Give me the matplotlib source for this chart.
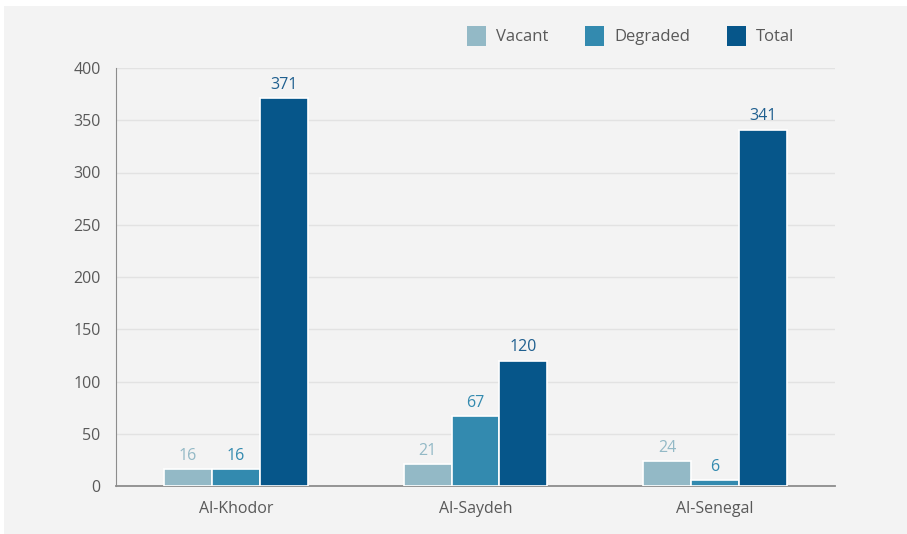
import numpy as np
import matplotlib.pyplot as plt
from matplotlib.patches import Rectangle

plt.rcParams['font.family'] = ['Open Sans', 'DejaVu Sans']

sites = ['Al-Khodor', 'Al-Saydeh', 'Al-Senegal']
series = ['Vacant', 'Degraded', 'Total']
vacant = [16, 21, 24]
degraded = [16, 67, 6]
total = [371, 120, 341]
colors = ['#93b9c6', '#338aaf', '#06568a']
label_colors = ['#93b9c6', '#338aaf', '#1f5f8f']

fig = plt.figure(figsize=(9.07, 5.34), dpi=100, facecolor='white')
# light grey panel behind everything
bg = Rectangle((4 / 907, 0), 1, 528 / 534, transform=fig.transFigure,
               facecolor='#f3f3f3', edgecolor='none', zorder=-10)
fig.add_artist(bg)
ax = fig.add_axes([116 / 907, 1 - 486 / 534, 719 / 907, 418 / 534])
ax.set_facecolor('#f3f3f3')

x = np.arange(len(sites))
w = 0.2
for i, (name, vals) in enumerate(zip(series, [vacant, degraded, total])):
    pos = x + (i - 1) * w
    ax.bar(pos, vals, width=w, color=colors[i], edgecolor='white', linewidth=1.2,
           label=name, zorder=3)
    for px, v in zip(pos, vals):
        ax.text(px, v + 5, str(v), ha='center', va='bottom', fontsize=11.5,
                color=label_colors[i], fontweight='medium' if i else 'normal')

ax.set_xlim(-0.5, 2.5)
ax.set_ylim(0, 400)
ax.set_yticks(np.arange(0, 401, 50))
ax.set_xticks(x)
ax.set_xticklabels(sites)
ax.tick_params(length=0, labelsize=11.5, labelcolor='#595959')
ax.tick_params(axis='y', pad=11)
ax.tick_params(axis='x', pad=11)
ax.grid(axis='y', color='#e2e2e2', linewidth=1, zorder=0)
for s in ['top', 'right']:
    ax.spines[s].set_visible(False)
ax.spines['left'].set_color('#8c8c8c')
ax.spines['bottom'].set_color('#8c8c8c')
ax.spines['bottom'].set_linewidth(1.3)

leg = fig.legend(loc='center', bbox_to_anchor=(631 / 907, 1 - 36 / 534), ncol=3,
                 frameon=False, fontsize=12, handlelength=1.1, handleheight=1.5,
                 columnspacing=2.2, handletextpad=0.65)
for t in leg.get_texts():
    t.set_color('#595959')
for h in leg.legend_handles:
    h.set_edgecolor('none')

fig.savefig('out.png', dpi=100, facecolor=fig.get_facecolor())
